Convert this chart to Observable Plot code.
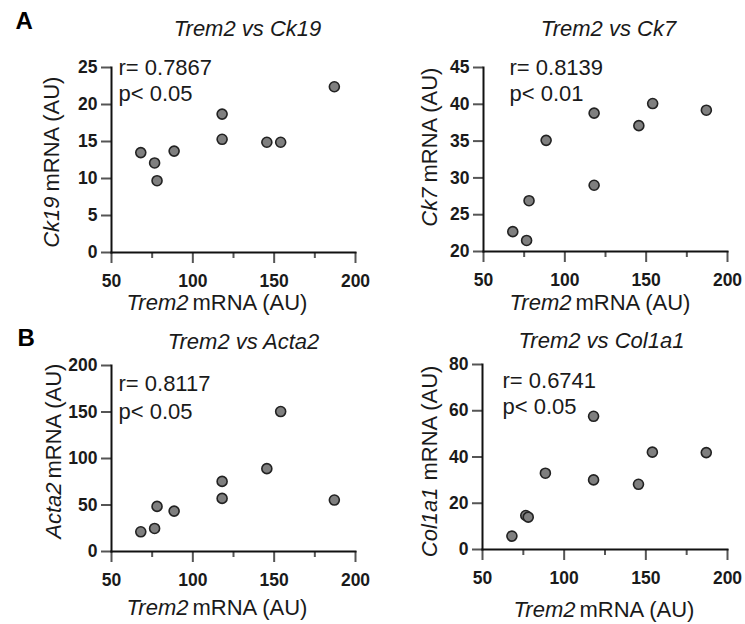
<!DOCTYPE html>
<html><head><meta charset="utf-8">
<script src="https://cdn.jsdelivr.net/npm/d3@7"></script>
<script src="https://cdn.jsdelivr.net/npm/@observablehq/plot@0.6"></script>
<style>
body{margin:0;background:#fff;}
#wrap{position:relative;width:745px;height:624px;overflow:hidden;background:#fff;}
.panel{position:absolute;}
</style></head><body><div id="wrap"></div>
<script>
// ---- data ----
const trem2  = [68, 76.5, 78, 88.5, 118, 118, 145.5, 154, 187];
const ck19   = [13.5, 12.1, 9.7, 13.7, 18.7, 15.3, 14.9, 14.9, 22.4];
const ck7    = [22.7, 21.5, 26.9, 35.1, 38.8, 29.0, 37.1, 40.1, 39.2];
const acta2  = [21.2, 24.8, 48.5, 43.4, 75.4, 57.1, 89.1, 150.5, 55.3];
const col1a1 = [5.8, 14.7, 14.0, 33.0, 57.6, 30.1, 28.2, 42.1, 41.9];
const xTicks = [50, 100, 150, 200];
const xMinorTicks = [75, 125, 175];
const ck19Ticks = [0, 5, 10, 15, 20, 25];
const ck7Ticks = [20, 25, 30, 35, 40, 45];
const acta2Ticks = [0, 50, 100, 150, 200];
const col1a1Ticks = [0, 20, 40, 60, 80];
const genes = ["Ck19", "Ck7", "Acta2", "Col1a1"];
const rValues = ["r= 0.7867", "r= 0.8139", "r= 0.8117", "r= 0.6741"];
const pValues = ["p< 0.05", "p< 0.01", "p< 0.05", "p< 0.05"];
const panelLetters = ["A", null, "B", null];

// ---- layout (positions / styles) ----
const W = 372, H = 312, MR = 17;
const layout = [
  {left:0,   top:0,   ml:111, mt:67, mb:60, values:ck19,   domain:[0,25],  ticks:ck19Ticks,
   titleX:247, titleY:35, rX:118, rY:74, pY:100, xlEnd:188, xlStart:192, xlY:309,
   ylX:51, ylEnd:196, ylStart:191, letterX:15, letterY:28},
  {left:372, top:0,   ml:111, mt:67, mb:61, values:ck7,    domain:[20,45], ticks:ck7Ticks,
   titleX:236, titleY:35, rX:137, rY:74, pY:100, xlEnd:199, xlStart:203, xlY:309,
   ylX:57, ylEnd:187, ylStart:182},
  {left:0,   top:312, ml:111, mt:53, mb:73, values:acta2,  domain:[0,200], ticks:acta2Ticks,
   titleX:243, titleY:36, rX:118, rY:78, pY:106, xlEnd:188, xlStart:192, xlY:302,
   ylX:53, ylEnd:170, ylStart:166, letterX:17, letterY:33},
  {left:372, top:312, ml:110, mt:52, mb:75, values:col1a1, domain:[0,80],  ticks:col1a1Ticks,
   titleX:229, titleY:35, rX:130, rY:75, pY:101, xlEnd:203, xlStart:207, xlY:304,
   ylX:57, ylEnd:175, ylStart:168}
];

const FONT = "'Liberation Sans', Arial, sans-serif";
const TXT = "#1a1a1a";
const wrap = document.getElementById("wrap");

layout.forEach((L, i) => {
  const data = trem2.map((x, j) => ({x, y: L.values[j]}));
  const frameCx = (L.ml + (W - MR)) / 2;
  const frameBottom = H - L.mb;
  const frameMidY = (L.mt + frameBottom) / 2;
  const marks = [
    Plot.axisX(xMinorTicks, {tickSize: 6, text: null, label: null, stroke: "#555", strokeWidth: 2}),
    Plot.axisX(xTicks, {tickSize: 11, tickPadding: 11, stroke: "#555", strokeWidth: 2,
      fill: TXT, fontSize: 17.5, fontWeight: "bold", label: null}),
    Plot.axisY(L.ticks, {tickSize: 10, tickPadding: 4, stroke: "#555", strokeWidth: 2,
      fill: TXT, fontSize: 17.5, fontWeight: "bold", label: null}),
    Plot.frame({anchor: "left", stroke: "#111", strokeWidth: 2}),
    Plot.frame({anchor: "bottom", stroke: "#111", strokeWidth: 2}),
    Plot.dot(data, {x: "x", y: "y", r: 5, fill: "#7f7f7f", stroke: "#222", strokeWidth: 1.6}),
    // title
    Plot.text([`Trem2 vs ${genes[i]}`], {text: d => d, frameAnchor: "top", dx: L.titleX - frameCx,
      dy: L.titleY - L.mt, lineAnchor: "bottom", fontStyle: "italic", fontSize: 22, fill: TXT}),
    // stats
    Plot.text([rValues[i]], {text: d => d, frameAnchor: "top-left", textAnchor: "start",
      dx: L.rX - L.ml, dy: L.rY - L.mt, lineAnchor: "bottom", fontSize: 22, fill: TXT}),
    Plot.text([pValues[i]], {text: d => d, frameAnchor: "top-left", textAnchor: "start",
      dx: L.rX - L.ml, dy: L.pY - L.mt, lineAnchor: "bottom", fontSize: 22, fill: TXT}),
    // x label
    Plot.text(["Trem2"], {text: d => d, frameAnchor: "bottom-left", textAnchor: "end",
      dx: L.xlEnd - L.ml, dy: L.xlY - frameBottom, lineAnchor: "bottom", fontStyle: "italic", fontSize: 22, fill: TXT}),
    Plot.text(["mRNA (AU)"], {text: d => d, frameAnchor: "bottom-left", textAnchor: "start",
      dx: L.xlStart - L.ml, dy: L.xlY - frameBottom, lineAnchor: "bottom", fontSize: 22, fill: TXT}),
    // y label
    Plot.text([genes[i]], {text: d => d, frameAnchor: "left", rotate: -90, textAnchor: "end",
      dx: L.ylX - L.ml, dy: L.ylEnd - frameMidY, lineAnchor: "middle", fontStyle: "italic", fontSize: 22, fill: TXT}),
    Plot.text(["mRNA (AU)"], {text: d => d, frameAnchor: "left", rotate: -90, textAnchor: "start",
      dx: L.ylX - L.ml, dy: L.ylStart - frameMidY, lineAnchor: "middle", fontSize: 22, fill: TXT})
  ];
  if (panelLetters[i]) {
    marks.push(Plot.text([panelLetters[i]], {text: d => d, frameAnchor: "top-left", textAnchor: "start",
      dx: L.letterX - L.ml, dy: L.letterY - L.mt, lineAnchor: "bottom", fontSize: 24, fontWeight: "bold", fill: "#000"}));
  }
  const chart = Plot.plot({
    width: W, height: H,
    marginLeft: L.ml, marginRight: MR, marginTop: L.mt, marginBottom: L.mb,
    style: {fontFamily: FONT, background: "transparent", overflow: "visible"},
    x: {domain: [50, 200]},
    y: {domain: L.domain},
    marks
  });
  chart.classList.add("panel");
  chart.style.left = L.left + "px";
  chart.style.top = L.top + "px";
  wrap.appendChild(chart);
});
</script>
</body></html>
